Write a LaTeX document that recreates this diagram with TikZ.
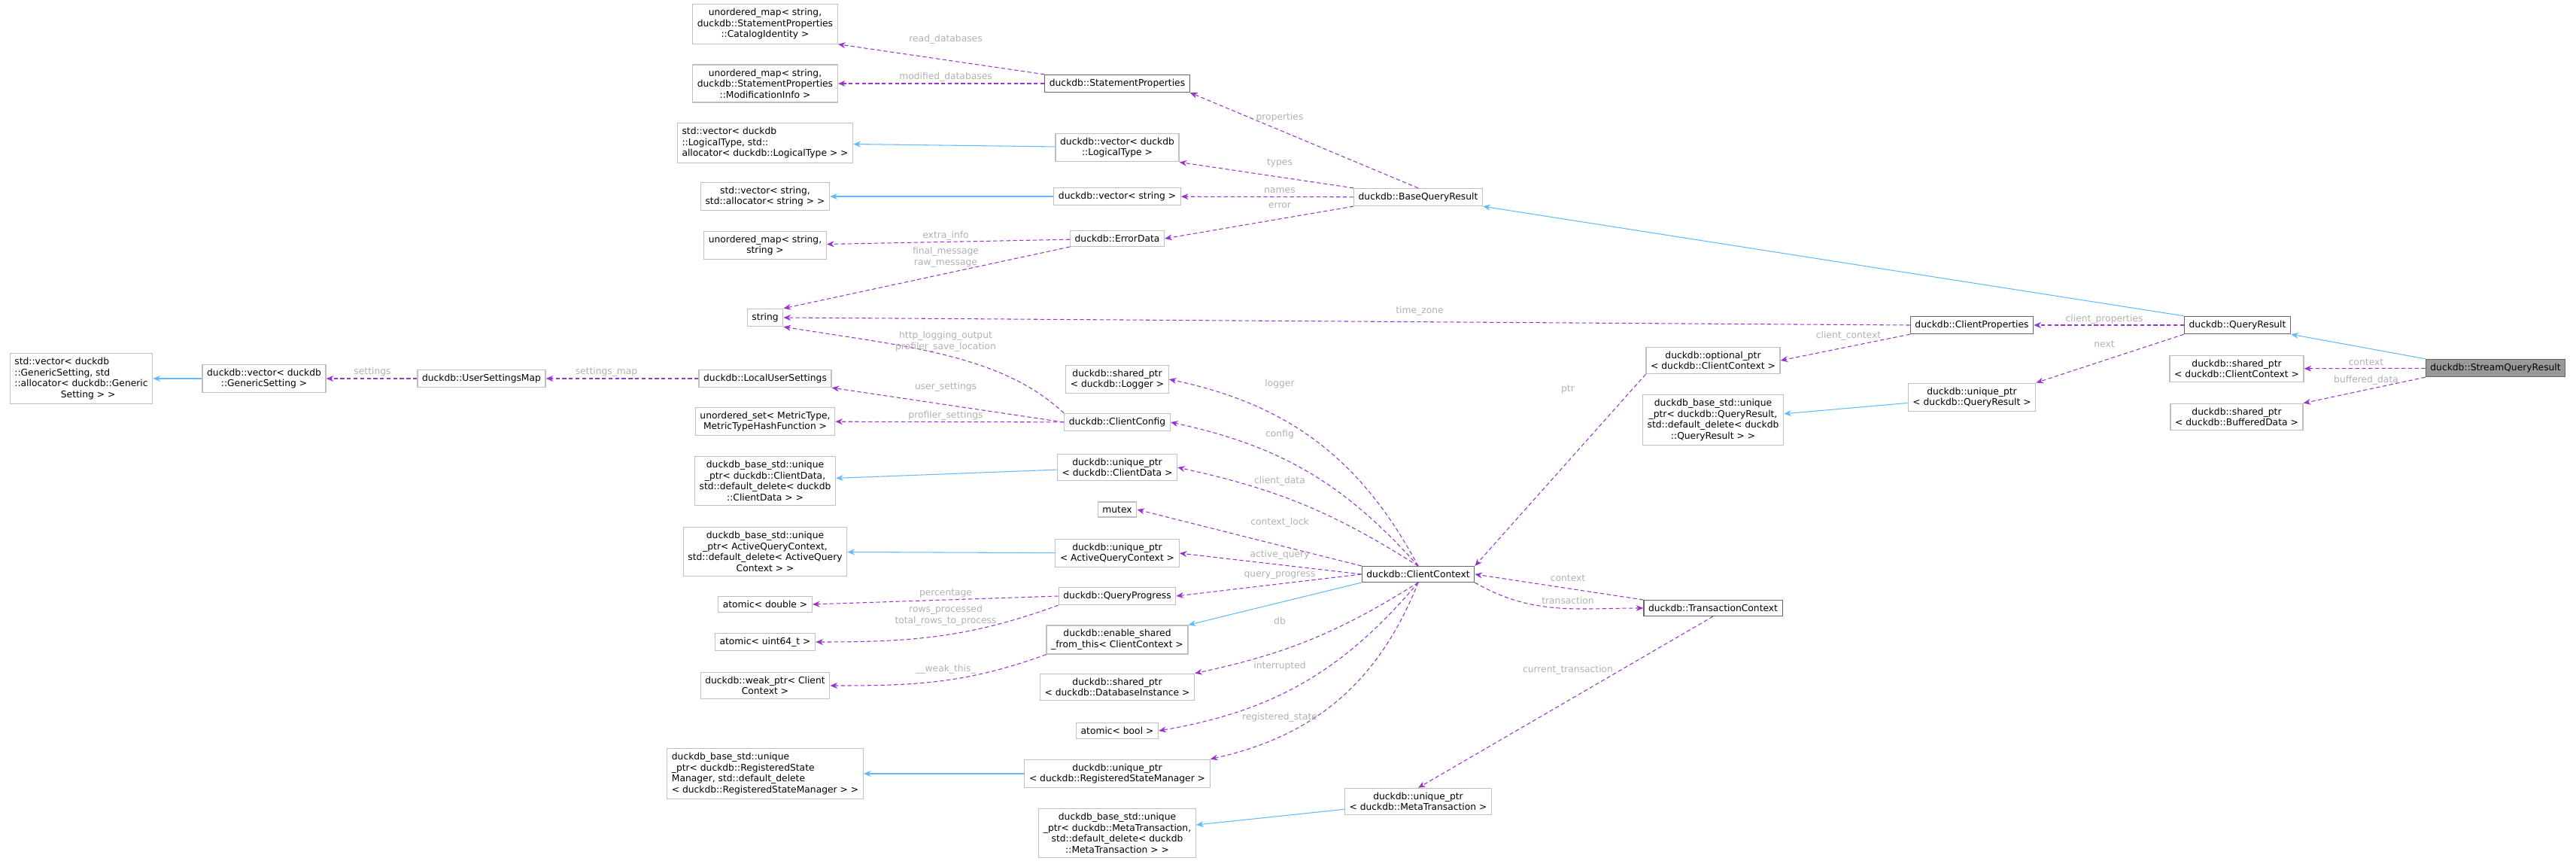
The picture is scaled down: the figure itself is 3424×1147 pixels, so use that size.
\documentclass[tikz,border=0pt]{standalone}
\usepackage{fontspec}
\setmainfont{DejaVu Sans}
\usetikzlibrary{arrows.meta}
\definecolor{memcol}{HTML}{9A32CD}
\definecolor{inhcol}{HTML}{63B8FF}
\definecolor{boxcol}{HTML}{BFBFBF}
\definecolor{darkbox}{HTML}{666666}
\definecolor{lblcol}{HTML}{B0B0B0}
\tikzset{
  cls/.style = {draw=boxcol, line width=0.7pt, fill=white, inner xsep=3.5pt, inner ysep=3.2pt,
                font=\fontsize{7}{8.3}\selectfont, align=center},
  clsl/.style = {cls, align=left},
  clsd/.style = {cls, draw=darkbox},
  cur/.style = {cls, draw=darkbox, fill=black!40},
  mem/.style = {draw=memcol, line width=0.6pt, dash pattern=on 3pt off 2pt,
                -{Stealth[length=5.5pt,width=4.5pt]}},
  inh/.style = {draw=inhcol, line width=0.6pt, -{Stealth[length=5.5pt,width=4.5pt]}},
  lbl/.style = {text=lblcol, font=\fontsize{7}{8.3}\selectfont, align=center, inner sep=0pt}
}
\begin{document}
\begin{tikzpicture}[x=0.02cm, y=-0.02cm]
    \useasboundingbox (0,0) rectangle (3424,1147);

    % left part
    \node[clsl] (gsvec) at (108,503) {std::vector< duckdb\\::GenericSetting, std\\::allocator< duckdb::Generic\\\hspace*{5em}Setting > >};
    \node[cls] (dvgs) at (351,503) {duckdb::vector< duckdb\\::GenericSetting >};
    \node[cls] (usm) at (640,503) {duckdb::UserSettingsMap};

    % column of member types
    \node[cls] (catid) at (1017,32) {unordered\_map< string,\\duckdb::StatementProperties\\::CatalogIdentity >};
    \node[cls] (modinfo) at (1017,111) {unordered\_map< string,\\duckdb::StatementProperties\\::ModificationInfo >};
    \node[clsl] (lvec) at (1017,190) {std::vector< duckdb\\::LogicalType, std::\\allocator< duckdb::LogicalType > >};
    \node[cls] (svec) at (1017,261) {std::vector< string,\\std::allocator< string > >};
    \node[cls] (umap) at (1017,326) {unordered\_map< string,\\string >};
    \node[cls] (string) at (1017,422) {string};
    \node[cls] (lus) at (1017,503) {duckdb::LocalUserSettings};
    \node[cls] (uset) at (1017,560) {unordered\_set< MetricType,\\MetricTypeHashFunction >};
    \node[cls] (baseCD) at (1017,639) {duckdb\_base\_std::unique\\\_ptr< duckdb::ClientData,\\std::default\_delete< duckdb\\::ClientData > >};
    \node[cls] (baseAQC) at (1017,733) {duckdb\_base\_std::unique\\\_ptr< ActiveQueryContext,\\std::default\_delete< ActiveQuery\\Context > >};
    \node[cls] (adouble) at (1017,803) {atomic< double >};
    \node[cls] (auint) at (1017,853) {atomic< uint64\_t >};
    \node[cls] (weak) at (1017,911) {duckdb::weak\_ptr< Client\\Context >};
    \node[clsl] (baseRSM) at (1017,1028) {duckdb\_base\_std::unique\\\_ptr< duckdb::RegisteredState\\Manager, std::default\_delete\\< duckdb::RegisteredStateManager > >};

    % second column
    \node[clsd] (stprops) at (1485,111) {duckdb::StatementProperties};
    \node[cls] (dlvec) at (1485,196) {duckdb::vector< duckdb\\::LogicalType >};
    \node[cls] (dsvec) at (1485,261) {duckdb::vector< string >};
    \node[cls] (errdata) at (1485,317) {duckdb::ErrorData};
    \node[cls] (logger) at (1485,504) {duckdb::shared\_ptr\\< duckdb::Logger >};
    \node[cls] (cconfig) at (1485,561) {duckdb::ClientConfig};
    \node[cls] (uCD) at (1485,621) {duckdb::unique\_ptr\\< duckdb::ClientData >};
    \node[cls] (mutex) at (1485,677) {mutex};
    \node[cls] (uAQC) at (1485,735) {duckdb::unique\_ptr\\< ActiveQueryContext >};
    \node[cls] (qprog) at (1485,792) {duckdb::QueryProgress};
    \node[cls] (esft) at (1485,850) {duckdb::enable\_shared\\\_from\_this< ClientContext >};
    \node[cls] (sDB) at (1485,913) {duckdb::shared\_ptr\\< duckdb::DatabaseInstance >};
    \node[cls] (abool) at (1485,971) {atomic< bool >};
    \node[cls] (uRSM) at (1485,1028) {duckdb::unique\_ptr\\< duckdb::RegisteredStateManager >};
    \node[cls] (baseMT) at (1485,1107) {duckdb\_base\_std::unique\\\_ptr< duckdb::MetaTransaction,\\std::default\_delete< duckdb\\::MetaTransaction > >};

    % middle
    \node[cls] (bqr) at (1885,262) {duckdb::BaseQueryResult};
    \node[clsd] (cctx) at (1885,763) {duckdb::ClientContext};
    \node[cls] (uMT) at (1885,1065) {duckdb::unique\_ptr\\< duckdb::MetaTransaction >};

    % right part
    \node[cls] (optr) at (2277,479) {duckdb::optional\_ptr\\< duckdb::ClientContext >};
    \node[cls] (baseQR) at (2277,558) {duckdb\_base\_std::unique\\\_ptr< duckdb::QueryResult,\\std::default\_delete< duckdb\\::QueryResult > >};
    \node[clsd] (tctx) at (2277,808) {duckdb::TransactionContext};
    \node[clsd] (cprops) at (2621,432) {duckdb::ClientProperties};
    \node[cls] (uQR) at (2621,528) {duckdb::unique\_ptr\\< duckdb::QueryResult >};
    \node[clsd] (qr) at (2974,432) {duckdb::QueryResult};
    \node[cls] (sCC) at (2973,490) {duckdb::shared\_ptr\\< duckdb::ClientContext >};
    \node[cls] (sBD) at (2973,554) {duckdb::shared\_ptr\\< duckdb::BufferedData >};
    \node[cur] (sqr) at (3317,489) {duckdb::StreamQueryResult};

    % inheritance
    \draw[inh] (dvgs) -- (gsvec);
    \draw[inh] (dlvec) -- (lvec);
    \draw[inh] (dsvec) -- (svec);
    \draw[inh] (uCD) -- (baseCD);
    \draw[inh] (uAQC) -- (baseAQC);
    \draw[inh] (uRSM) -- (baseRSM);
    \draw[inh] (uMT) -- (baseMT);
    \draw[inh] (cctx.south west) -- (esft.north east);
    \draw[inh] (uQR) -- (baseQR);
    \draw[inh] (qr.north west) -- (bqr.south east);
    \draw[inh] (sqr.north west) -- (qr.south east);

    % members
    \draw[mem] (stprops.north west) -- (catid.south east);
    \draw[mem] (stprops) -- (modinfo);
    \draw[mem] (bqr.north) -- (stprops.south east);
    \draw[mem] (bqr.north west) -- (dlvec.south east);
    \draw[mem] (bqr) -- (dsvec);
    \draw[mem] (bqr.south west) -- (errdata.east);
    \draw[mem] (errdata) -- (umap);
    \draw[mem] (errdata.south west) -- (string.north east);
    \draw[mem] (cprops.west) -- (string.east);
    \draw[mem] (cconfig.north west) .. controls (1330,470) and (1200,460) .. (string.south east);
    \draw[mem] (usm) -- (dvgs);
    \draw[mem] (lus) -- (usm);
    \draw[mem] (cconfig.west) -- (lus.south east);
    \draw[mem] (cconfig) -- (uset);
    \draw[mem] (cctx.north) to[bend right=25] (logger.east);
    \draw[mem] (cctx.north) to[bend right=18] (cconfig.east);
    \draw[mem] (cctx.north) to[bend right=10] (uCD.east);
    \draw[mem] (cctx.north west) -- (mutex.east);
    \draw[mem] (cctx.west) -- (uAQC.east);
    \draw[mem] (cctx.west) -- (qprog.east);
    \draw[mem] (qprog.west) -- (adouble.east);
    \draw[mem] (qprog.south west) to[out=200, in=0] (auint.east);
    \draw[mem] (esft.south west) to[out=200, in=0] (weak.east);
    \draw[mem] (cctx.south) to[bend left=10] (sDB.north east);
    \draw[mem] (cctx.south) to[bend left=20] (abool.east);
    \draw[mem] (cctx.south) to[bend left=28] (uRSM.north east);
    \draw[mem] (optr.south west) -- (cctx.north east);
    \draw[mem] (tctx.north west) -- (cctx.east);
    \draw[mem] (cctx.south east) to[out=-30, in=180] (tctx.west);
    \draw[mem] (tctx.south) -- (uMT.north);
    \draw[mem] (cprops.south west) -- (optr.east);
    \draw[mem] (qr) -- (cprops);
    \draw[mem] (qr.south west) -- (uQR.north east);
    \draw[mem] (sqr) -- (sCC);
    \draw[mem] (sqr.south west) -- (sBD.north east);

    % edge labels
    \node[lbl] (l-read) at (1257,52) {read\_databases};
    \node[lbl] (l-mod) at (1257,102) {modified\_databases};
    \node[lbl] (l-props) at (1701,156) {properties};
    \node[lbl] (l-types) at (1701,216) {types};
    \node[lbl] (l-names) at (1701,253) {names};
    \node[lbl] (l-error) at (1701,273) {error};
    \node[lbl] (l-extra) at (1257,313) {extra\_info};
    \node[lbl] (l-msg) at (1257,342) {final\_message\\raw\_message};
    \node[lbl] (l-tz) at (1887,413) {time\_zone};
    \node[lbl] (l-http) at (1257,454) {http\_logging\_output\\profiler\_save\_location};
    \node[lbl] (l-user) at (1257,514) {user\_settings};
    \node[lbl] (l-prof) at (1257,552) {profiler\_settings};
    \node[lbl] (l-settings) at (495,494) {settings};
    \node[lbl] (l-smap) at (806,494) {settings\_map};
    \node[lbl] (l-logger) at (1701,510) {logger};
    \node[lbl] (l-config) at (1701,577) {config};
    \node[lbl] (l-cdata) at (1701,639) {client\_data};
    \node[lbl] (l-lock) at (1701,694) {context\_lock};
    \node[lbl] (l-aq) at (1701,737) {active\_query};
    \node[lbl] (l-qp) at (1701,764) {query\_progress};
    \node[lbl] (l-pct) at (1257,788) {percentage};
    \node[lbl] (l-rows) at (1257,818) {rows\_processed\\total\_rows\_to\_process};
    \node[lbl] (l-db) at (1701,825) {db};
    \node[lbl] (l-weak) at (1257,889) {\_\_weak\_this\_};
    \node[lbl] (l-int) at (1701,885) {interrupted};
    \node[lbl] (l-reg) at (1701,953) {registered\_state};
    \node[lbl] (l-ptr) at (2084,517) {ptr};
    \node[lbl] (l-ctx) at (2084,768) {context};
    \node[lbl] (l-trans) at (2084,798) {transaction};
    \node[lbl] (l-cur) at (2084,890) {current\_transaction};
    \node[lbl] (l-cctx) at (2457,446) {client\_context};
    \node[lbl] (l-cprops) at (2797,424) {client\_properties};
    \node[lbl] (l-next) at (2797,457) {next};
    \node[lbl] (l-sctx) at (3145,481) {context};
    \node[lbl] (l-buf) at (3145,505) {buffered\_data};
\end{tikzpicture}
\end{document}
